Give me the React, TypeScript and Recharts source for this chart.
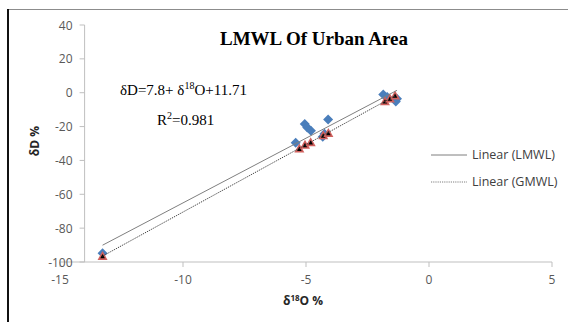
import { Legend, ReferenceDot, ReferenceLine, Scatter, ScatterChart, XAxis, YAxis } from "recharts";

// urban samples (LMWL series, blue diamonds)
const lmwlO18 = [-13.27, -5.42, -5.05, -4.95, -4.8, -4.1, -4.25, -4.32, -1.86, -1.7, -1.3, -1.35];
const lmwlD = [-94.8, -29.6, -18.5, -20.5, -22.5, -15.8, -24.2, -26, -1, -2.5, -3.5, -5.2];

// GMWL reference points (red triangles)
const gmwlO18 = [-13.27, -5.27, -5.04, -4.81, -4.3, -4.09, -1.79, -1.59, -1.38];
const gmwlD = [-96.4, -33, -30.8, -29.2, -25.2, -23.8, -5, -3.4, -1.6];

const xTicks = [-15, -10, -5, 0, 5];
const yTicks = [40, 20, 0, -20, -40, -60, -80, -100];
const yAxisCrossAt = -14;
const legendLabels = ["Linear (LMWL)", "Linear (GMWL)"];

const tickFont = "'Open Sans', 'Liberation Sans', sans-serif";
const serif = "'Liberation Serif', 'Times New Roman', serif";
const axisGrey = "#bfbfbf";

interface Pt {
  x: number;
  y: number;
}

function toPoints(xs: number[], ys: number[]): Pt[] {
  return xs.map((x, i) => ({ x, y: ys[i] }));
}

// least squares trendline over the range of the series, like Excel's "Linear" trendline
function trendline(points: Pt[]): Pt[] {
  const n = points.length;
  const mx = points.reduce((a, p) => a + p.x, 0) / n;
  const my = points.reduce((a, p) => a + p.y, 0) / n;
  let sxy = 0;
  let sxx = 0;
  points.forEach((p) => {
    sxy += (p.x - mx) * (p.y - my);
    sxx += (p.x - mx) * (p.x - mx);
  });
  const slope = sxy / sxx;
  const icpt = my - slope * mx;
  const xs = points.map((p) => p.x);
  const lo = Math.min(...xs);
  const hi = Math.max(...xs);
  return [lo, hi].map((x) => ({ x, y: slope * x + icpt }));
}

const lmwlPoints = toPoints(lmwlO18, lmwlD);
const gmwlPoints = toPoints(gmwlO18, gmwlD);
const lmwlTrend = trendline(lmwlPoints);
const gmwlTrend = trendline(gmwlPoints);

function Diamond(props: any) {
  const { cx, cy } = props;
  const r = 5;
  return (
    <polygon
      points={`${cx},${cy - r} ${cx + r},${cy} ${cx},${cy + r} ${cx - r},${cy}`}
      fill="#4a7ebb"
    />
  );
}

function Triangle(props: any) {
  const { cx, cy } = props;
  return (
    <g>
      <polygon points={`${cx},${cy - 5} ${cx + 5},${cy + 4} ${cx - 5},${cy + 4}`} fill="#d0605d" />
      <polygon points={`${cx},${cy - 2} ${cx + 2.3},${cy + 2.3} ${cx - 2.3},${cy + 2.3}`} fill="#000" />
    </g>
  );
}

function NoShape() {
  return <g />;
}

function YTick(props: any) {
  const { cx, cy, value } = props;
  return (
    <g>
      <line x1={cx - 5} y1={cy} x2={cx} y2={cy} stroke={axisGrey} />
      <text
        x={cx - 12}
        y={cy}
        textAnchor="end"
        dominantBaseline="central"
        fill="#595959"
        fontSize={12}
        fontFamily={tickFont}
      >
        {value}
      </text>
    </g>
  );
}

function TrendLegend() {
  return (
    <div style={{ fontFamily: tickFont, fontSize: 12.5, color: "#404040" }}>
      {legendLabels.map((label, i) => (
        <div key={label} style={{ display: "flex", alignItems: "center", height: 27 }}>
          <svg width={36} height={4}>
            <line
              x1={0}
              y1={2}
              x2={36}
              y2={2}
              stroke="#7f7f7f"
              strokeWidth={1}
              strokeDasharray={i === 1 ? "1.2 1" : undefined}
            />
          </svg>
          <span style={{ marginLeft: 5, whiteSpace: "nowrap" }}>{label}</span>
        </div>
      ))}
    </div>
  );
}

export default function App() {
  return (
    <div
      style={{
        position: "absolute",
        left: 0,
        top: 0,
        width: 568,
        height: 322,
        background: "#fff",
        overflow: "hidden",
      }}
    >
      <ScatterChart width={568} height={322} margin={{ top: 25, right: 16, bottom: 30, left: 60 }}>
        <XAxis
          type="number"
          dataKey="x"
          domain={[-15, 5]}
          ticks={xTicks}
          stroke={axisGrey}
          tickSize={5}
          tickMargin={8}
          height={30}
          tick={{ fill: "#595959", fontSize: 12, fontFamily: tickFont }}
        />
        <YAxis type="number" dataKey="y" domain={[-100, 40]} ticks={yTicks} hide width={0} />
        <ReferenceLine x={yAxisCrossAt} stroke={axisGrey} />
        {yTicks.map((t) => (
          <ReferenceDot
            key={t}
            x={yAxisCrossAt}
            y={t}
            r={0}
            shape={(p: any) => <YTick {...p} value={t} />}
          />
        ))}
        <Scatter data={lmwlPoints} shape={Diamond} isAnimationActive={false} />
        <Scatter data={gmwlPoints} shape={Triangle} isAnimationActive={false} />
        <Scatter
          data={lmwlTrend}
          shape={NoShape}
          line={{ stroke: "#7f7f7f", strokeWidth: 1 }}
          isAnimationActive={false}
        />
        <Scatter
          data={gmwlTrend}
          shape={NoShape}
          line={{ stroke: "#404040", strokeWidth: 1, strokeDasharray: "1.2 1" }}
          isAnimationActive={false}
        />
        <Legend
          layout="vertical"
          align="center"
          verticalAlign="middle"
          content={TrendLegend}
          wrapperStyle={{ left: 431, top: 141, width: 137 }}
        />
      </ScatterChart>

      {/* frame */}
      <div style={{ position: "absolute", left: 7, top: 9, width: 561, height: 1, background: "#8c8c8c" }} />
      <div style={{ position: "absolute", left: 7, top: 9, width: 2, height: 313, background: "#111" }} />

      <div
        style={{
          position: "absolute",
          left: 214,
          top: 29,
          width: 200,
          textAlign: "center",
          fontFamily: serif,
          fontWeight: "bold",
          fontSize: 19,
          lineHeight: "19px",
          whiteSpace: "nowrap",
        }}
      >
        LMWL Of Urban Area
      </div>
      <div
        style={{
          position: "absolute",
          left: 120,
          top: 83,
          fontFamily: serif,
          fontSize: 15,
          lineHeight: "15px",
          whiteSpace: "nowrap",
        }}
      >
        δD=7.8+ δ<span style={{ fontSize: 10, position: "relative", top: -6 }}>18</span>O+11.71
      </div>
      <div
        style={{
          position: "absolute",
          left: 157,
          top: 113,
          fontFamily: serif,
          fontSize: 15,
          lineHeight: "15px",
          whiteSpace: "nowrap",
        }}
      >
        R<span style={{ fontSize: 10, position: "relative", top: -6 }}>2</span>=0.981
      </div>
      <div
        style={{
          position: "absolute",
          left: 5,
          top: 133,
          width: 60,
          height: 16,
          lineHeight: "16px",
          textAlign: "center",
          fontFamily: tickFont,
          fontWeight: "bold",
          fontSize: 12,
          color: "#262626",
          transform: "rotate(-90deg)",
        }}
      >
        δD %
      </div>
      <div
        style={{
          position: "absolute",
          left: 263,
          top: 293,
          width: 80,
          height: 16,
          lineHeight: "16px",
          textAlign: "center",
          fontFamily: tickFont,
          fontWeight: "bold",
          fontSize: 12,
          color: "#262626",
          whiteSpace: "nowrap",
        }}
      >
        δ<span style={{ fontSize: 8, position: "relative", top: -4 }}>18</span>O %
      </div>
    </div>
  );
}
